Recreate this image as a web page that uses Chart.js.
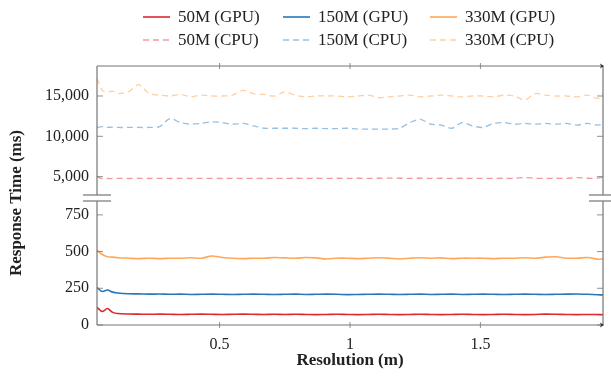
<!DOCTYPE html>
<html>
<head>
<meta charset="utf-8">
<script src="https://cdn.jsdelivr.net/npm/chart.js@4"></script>
<style>
  html, body { margin: 0; padding: 0; background: #fff; }
  #wrap { width: 611px; height: 376px; }
</style>
</head>
<body>
<div id="wrap"><canvas id="chart"></canvas></div>
<script>
// resolution (m) sampled along the x axis
const resolution = [0.03, 0.05, 0.07, 0.09, 0.11, 0.15, 0.19, 0.23, 0.27, 0.31, 0.35, 0.39, 0.43, 0.47, 0.51,
  0.55, 0.59, 0.63, 0.67, 0.71, 0.75, 0.79, 0.83, 0.87, 0.91, 0.95, 0.99, 1.03, 1.07, 1.11, 1.15, 1.19, 1.23,
  1.27, 1.31, 1.35, 1.39, 1.43, 1.47, 1.51, 1.55, 1.59, 1.63, 1.67, 1.71, 1.75, 1.79, 1.83, 1.87, 1.91, 1.95, 1.97];

// GPU response times (ms) - lower panel
const gpu50 = [120, 92, 112, 86, 78, 75, 74, 73, 74, 73, 72, 73, 74, 73, 72, 73, 74, 73, 72, 73, 72, 73, 72, 71, 72, 73,
  72, 71, 72, 73, 72, 71, 72, 73, 72, 71, 72, 73, 72, 71, 72, 73, 72, 71, 72, 74, 73, 72, 71, 72, 71, 70];
const gpu150 = [255, 228, 238, 224, 218, 213, 212, 210, 211, 209, 210, 208, 209, 210, 209, 208, 209, 210, 209, 208, 209,
  210, 208, 209, 210, 209, 207, 208, 209, 210, 209, 208, 209, 210, 208, 209, 210, 208, 209, 210, 209, 208, 209, 210,
  209, 208, 209, 210, 211, 209, 206, 205];
const gpu330 = [510, 480, 465, 462, 458, 455, 452, 455, 452, 455, 455, 458, 455, 470, 460, 455, 452, 455, 455, 460, 457,
  455, 460, 457, 450, 455, 455, 452, 455, 458, 455, 450, 455, 458, 455, 457, 452, 455, 455, 455, 452, 455, 455, 458,
  455, 462, 465, 455, 455, 460, 448, 450];

// CPU response times (ms) - upper panel
const cpu50 = [5000, 4760, 4770, 4760, 4780, 4770, 4780, 4770, 4780, 4770, 4780, 4770, 4780, 4780, 4770, 4780, 4770,
  4780, 4770, 4780, 4790, 4800, 4790, 4800, 4790, 4800, 4790, 4800, 4790, 4800, 4810, 4800, 4790, 4800, 4790, 4800,
  4790, 4800, 4790, 4780, 4790, 4800, 4790, 4880, 4800, 4790, 4800, 4790, 4870, 4800, 4810, 4960];
const cpu150 = [11100, 11200, 11100, 11150, 11100, 11100, 11100, 11100, 11200, 12200, 11700, 11500, 11600, 11800, 11700,
  11500, 11600, 11300, 11000, 11000, 11000, 11000, 10950, 11000, 10950, 10950, 11000, 10900, 10900, 10900, 10900,
  11000, 11700, 12100, 11500, 11400, 11000, 11700, 11300, 11100, 11600, 11700, 11500, 11600, 11500, 11600, 11500,
  11600, 11400, 11600, 11400, 11500];
const cpu330 = [17200, 15700, 15500, 15600, 15300, 15500, 16400, 15300, 15100, 15000, 15200, 14900, 15100, 15000, 15000,
  15100, 15700, 15300, 15200, 15000, 15500, 15100, 14900, 15000, 15000, 15000, 14900, 15000, 15100, 14800, 14900,
  15000, 15100, 14900, 15000, 15100, 15000, 14900, 15000, 15000, 14900, 15100, 15000, 14500, 15300, 15100, 15000,
  15000, 14900, 15100, 14700, 15300];

// tick values
const xTicks = [0.5, 1, 1.5];
const highTicks = [5000, 10000, 15000];
const lowTicks = [0, 250, 500, 750];

const red = 'rgb(222,40,46)';
const blue = 'rgb(40,120,185)';
const orange = 'rgb(255,168,85)';
const redLight = 'rgba(232,70,80,0.55)';
const blueLight = 'rgba(60,140,205,0.55)';
const orangeLight = 'rgba(255,168,85,0.55)';
const axisColor = '#757575';
const textColor = '#222';
const serif = "'Liberation Serif', 'DejaVu Serif', serif";

function gpuSet(label, data, color) {
  return { label, data, borderColor: color, backgroundColor: color, borderWidth: 1.6,
    pointRadius: 0, tension: 0.3, yAxisID: 'yLow' };
}
function cpuSet(label, data, color) {
  return { label, data, borderColor: color, backgroundColor: color, borderWidth: 1.3,
    borderDash: [6, 4], pointRadius: 0, tension: 0.3, yAxisID: 'yHigh' };
}

// axis frame, broken-axis marks, inner ticks, y title and 3x2 legend
const decorations = {
  id: 'decorations',
  afterDraw(chart) {
    const { ctx, chartArea: a, scales } = chart;
    const hi = scales.yHigh, lo = scales.yLow, xs = scales.x;
    const gy = hi.bottom, g = 3;
    const line = (x1, y1, x2, y2) => { ctx.beginPath(); ctx.moveTo(x1, y1); ctx.lineTo(x2, y2); ctx.stroke(); };
    ctx.save();
    ctx.strokeStyle = axisColor;
    ctx.lineWidth = 1.2;
    line(a.left, a.top, a.right, a.top);
    line(a.left, a.bottom, a.right, a.bottom);
    [a.left, a.right].forEach(x0 => {
      line(x0, a.top, x0, gy - g);
      line(x0, gy + g, x0, a.bottom);
      line(x0 - 14, gy - g, x0 + 14, gy - g);
      line(x0 - 14, gy + g, x0 + 14, gy + g);
    });
    ctx.lineWidth = 0.8;
    [hi, lo].forEach(s => s.ticks.forEach(t => {
      const y = s.getPixelForValue(t.value);
      line(a.left, y, a.left + 6, y);
      line(a.right - 6, y, a.right, y);
    }));
    xs.ticks.forEach(t => {
      const px = xs.getPixelForValue(t.value);
      line(px, a.bottom - 3, px, a.bottom + 3);
      line(px, a.top - 3, px, a.top + 3);
    });
    // arrow heads at the right end of the x axes
    ctx.fillStyle = '#333';
    [a.top, a.bottom].forEach(y => {
      ctx.beginPath();
      ctx.moveTo(a.right + 1, y);
      ctx.lineTo(a.right - 3, y - 2.5);
      ctx.lineTo(a.right - 2, y);
      ctx.lineTo(a.right - 3, y + 2.5);
      ctx.closePath();
      ctx.fill();
    });

    // y axis title
    ctx.fillStyle = textColor;
    ctx.font = 'bold 17px ' + serif;
    ctx.textAlign = 'center';
    ctx.textBaseline = 'middle';
    ctx.save();
    ctx.translate(17, 203);
    ctx.rotate(-Math.PI / 2);
    ctx.fillText('Response Time (ms)', 0, 0);
    ctx.restore();

    // legend
    const cols = [143, 283, 430], rows = [17, 40];
    ctx.font = '17px ' + serif;
    ctx.textAlign = 'left';
    chart.data.datasets.forEach((ds, i) => {
      const x0 = cols[i % 3], y0 = rows[Math.floor(i / 3)];
      ctx.strokeStyle = ds.borderColor;
      ctx.lineWidth = ds.borderWidth;
      ctx.setLineDash(ds.borderDash || []);
      line(x0, y0, x0 + 27, y0);
      ctx.setLineDash([]);
      ctx.fillStyle = textColor;
      ctx.fillText(ds.label, x0 + 35, y0 + 1);
    });
    ctx.restore();
  }
};

const tickFont = { family: serif, size: 16 };

new Chart(document.getElementById('chart'), {
  type: 'line',
  data: {
    labels: resolution,
    datasets: [
      gpuSet('50M (GPU)', gpu50, red),
      gpuSet('150M (GPU)', gpu150, blue),
      gpuSet('330M (GPU)', gpu330, orange),
      cpuSet('50M (CPU)', cpu50, redLight),
      cpuSet('150M (CPU)', cpu150, blueLight),
      cpuSet('330M (CPU)', cpu330, orangeLight)
    ]
  },
  options: {
    responsive: true,
    maintainAspectRatio: false,
    animation: false,
    layout: { padding: { top: 66, right: 8, left: 0, bottom: 0 } },
    plugins: { legend: { display: false }, tooltip: { enabled: false } },
    scales: {
      x: {
        type: 'linear',
        min: 0.03,
        max: 1.97,
        grid: { display: false },
        border: { display: false },
        afterBuildTicks: s => { s.ticks = xTicks.map(v => ({ value: v })); },
        afterFit: s => { s.height = 51; },
        ticks: { font: tickFont, color: textColor, padding: 2, maxRotation: 0, callback: v => String(v) },
        title: { display: true, text: 'Resolution (m)', color: textColor,
          font: { family: serif, size: 17, weight: 'bold' }, padding: { top: 0, bottom: 5 } }
      },
      yHigh: {
        type: 'linear',
        position: 'left',
        stack: 'resp',
        stackWeight: 132,
        weight: 2,
        min: 2350,
        max: 18720,
        grid: { display: false },
        border: { display: false },
        afterBuildTicks: s => { s.ticks = highTicks.map(v => ({ value: v })); },
        afterFit: s => { s.width = 97; },
        ticks: { font: tickFont, color: textColor, padding: 0 }
      },
      yLow: {
        type: 'linear',
        position: 'left',
        stack: 'resp',
        stackWeight: 127,
        weight: 1,
        min: 0,
        max: 865,
        grid: { display: false },
        border: { display: false },
        afterBuildTicks: s => { s.ticks = lowTicks.map(v => ({ value: v })); },
        afterFit: s => { s.width = 97; },
        ticks: { font: tickFont, color: textColor, padding: 0 }
      }
    }
  },
  plugins: [decorations]
});
</script>
</body>
</html>
